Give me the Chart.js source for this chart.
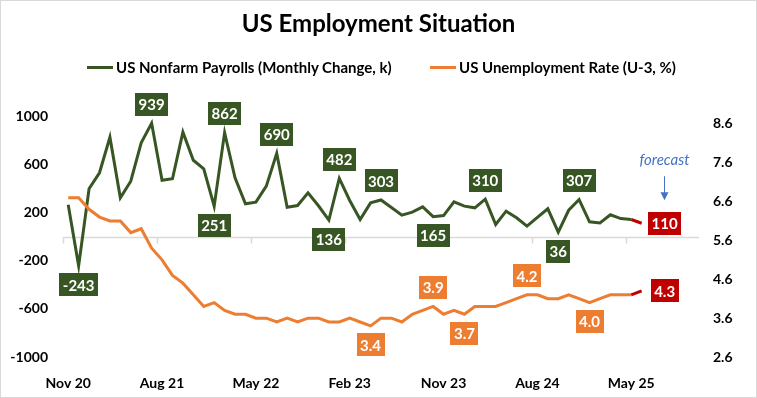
<!DOCTYPE html>
<html>
<head>
<meta charset="utf-8">
<script src="https://cdn.jsdelivr.net/npm/chart.js@4.4.1/dist/chart.umd.min.js"></script>
<style>
  body { margin: 0; background: #fff; }
  #wrap { position: relative; width: 757px; height: 398px; }
  #title { position: absolute; left: 0; top: 8px; width: 757px; line-height: 28px; text-align: center; font: bold 24px Lato, sans-serif; color: #000; }
  .leg { position: absolute; top: 58px; line-height: 18px; font: bold 15px Lato, sans-serif; color: #000; display: flex; align-items: center; white-space: nowrap; }
  .leg i { display: inline-block; width: 26px; height: 3px; margin-right: 3px; }
</style>
</head>
<body>
<div id="wrap">
  <canvas id="chart" width="757" height="398"></canvas>
  <div id="title">US Employment Situation</div>
  <div class="leg" style="left:87px"><i style="background:#375623"></i>US Nonfarm Payrolls (Monthly Change, k)</div>
  <div class="leg" style="left:430px"><i style="background:#ED7D31"></i>US Unemployment Rate (U-3, %)</div>
</div>
<script>
const categories = [
  "Nov 20", "Dec 20",
  "Jan 21", "Feb 21", "Mar 21", "Apr 21", "May 21", "Jun 21", "Jul 21", "Aug 21", "Sep 21", "Oct 21", "Nov 21", "Dec 21",
  "Jan 22", "Feb 22", "Mar 22", "Apr 22", "May 22", "Jun 22", "Jul 22", "Aug 22", "Sep 22", "Oct 22", "Nov 22", "Dec 22",
  "Jan 23", "Feb 23", "Mar 23", "Apr 23", "May 23", "Jun 23", "Jul 23", "Aug 23", "Sep 23", "Oct 23", "Nov 23", "Dec 23",
  "Jan 24", "Feb 24", "Mar 24", "Apr 24", "May 24", "Jun 24", "Jul 24", "Aug 24", "Sep 24", "Oct 24", "Nov 24", "Dec 24",
  "Jan 25", "Feb 25", "Mar 25", "Apr 25", "May 25", "Jun 25", "Jul 25", "Aug 25", "Sep 25", "Oct 25", "Nov 25"
];

// nonfarm payrolls, monthly change in thousands (last value = forecast)
const payrolls = [
  264, -243,
  396, 529, 824, 321, 459, 778, 939, 467, 479, 866, 633, 562,
  251, 862, 487, 271, 285, 418, 690, 243, 257, 362, 255, 136,
  482, 299, 141, 279, 303, 240, 177, 202, 246, 165, 174, 288,
  252, 238, 310, 100, 210, 155, 86, 158, 230, 36, 218, 307,
  122, 113, 180, 149, 141, 110
];

// unemployment rate U-3, % (last value = forecast)
const unemployment = [
  6.7, 6.7,
  6.4, 6.2, 6.1, 6.1, 5.8, 5.9, 5.4, 5.1, 4.7, 4.5, 4.2, 3.9,
  4.0, 3.8, 3.7, 3.7, 3.6, 3.6, 3.5, 3.6, 3.5, 3.6, 3.6, 3.5,
  3.5, 3.6, 3.5, 3.4, 3.6, 3.6, 3.5, 3.7, 3.8, 3.9, 3.7, 3.8,
  3.7, 3.9, 3.9, 3.9, 4.0, 4.1, 4.2, 4.2, 4.1, 4.1, 4.2, 4.1,
  4.0, 4.1, 4.2, 4.2, 4.2, 4.3
];

const payrollTicks = [-1000, -600, -200, 200, 600, 1000];
const rateTicks = [2.6, 3.6, 4.6, 5.6, 6.6, 7.6, 8.6];
const forecastIndex = 55;

// which points get a value box, and where
const payrollLabels = [[1, "below"], [8, "above"], [14, "below"], [15, "above"], [20, "above"], [25, "below"],
  [26, "above"], [30, "above"], [35, "below"], [40, "above"], [47, "below"], [49, "above"], [55, "right"]];
const rateLabels = [[29, "below"], [35, "above"], [38, "below"], [44, "above"], [50, "below"], [55, "right"]];

const GREEN = "#375623";
const ORANGE = "#ED7D31";
const RED = "#C00000";
const NOTE = "#4472C4";

Chart.defaults.font.family = "Lato, sans-serif";

const frame = {
  id: "frame",
  beforeDraw(chart) {
    const c = chart.ctx;
    c.save();
    c.fillStyle = "#fff";
    c.fillRect(0, 0, chart.width, chart.height);
    c.strokeStyle = "#D9D9D9";
    c.lineWidth = 1;
    c.strokeRect(0.5, 0.5, chart.width - 1, chart.height - 1);
    c.restore();
  }
};

const zeroAxis = {
  id: "zeroAxis",
  beforeDatasetsDraw(chart) {
    const { ctx, chartArea, scales: { x, y } } = chart;
    const y0 = Math.round(y.getPixelForValue(0)) + 0.5;
    const half = (x.getPixelForValue(1) - x.getPixelForValue(0)) / 2;
    ctx.save();
    ctx.strokeStyle = "#D9D9D9";
    ctx.lineWidth = 1.5;
    ctx.beginPath();
    ctx.moveTo(chartArea.left, y0);
    ctx.lineTo(chartArea.right, y0);
    categories.forEach((_, i) => {
      if (i % 9 === 0) {
        const px = Math.round(x.getPixelForValue(i) - half) + 0.5;
        ctx.moveTo(px, y0);
        ctx.lineTo(px, y0 + 6);
      }
    });
    ctx.stroke();
    ctx.restore();
  }
};

const boxLabels = {
  id: "boxLabels",
  afterDatasetsDraw(chart) {
    const c = chart.ctx;
    c.save();
    c.font = "bold 15px Lato, sans-serif";
    c.textAlign = "center";
    c.textBaseline = "middle";
    const groups = [
      [0, payrollLabels, GREEN, v => String(v)],
      [1, rateLabels, ORANGE, v => v.toFixed(1)]
    ];
    groups.forEach(([ds, list, color, fmt]) => {
      const meta = chart.getDatasetMeta(ds);
      list.forEach(([i, pos]) => {
        const pt = meta.data[i];
        const txt = fmt(chart.data.datasets[ds].data[i]);
        const w = Math.round(c.measureText(txt).width + 7);
        const h = 23;
        let x = pt.x, y = pt.y;
        if (pos === "above") y -= 19;
        else if (pos === "below") y += 19;
        else x += 23;
        c.fillStyle = i === forecastIndex ? RED : color;
        c.fillRect(Math.round(x - w / 2), Math.round(y - h / 2), w, h);
        c.fillStyle = "#fff";
        c.fillText(txt, x, y + 1);
      });
    });

    // forecast note with arrow above the payroll forecast box
    const fp = chart.getDatasetMeta(0).data[forecastIndex];
    const ax = Math.round(fp.x + 22) + 0.5;
    c.fillStyle = NOTE;
    c.font = "italic 15px Lato, sans-serif";
    c.fillText("forecast", ax, fp.y - 63);
    c.strokeStyle = NOTE;
    c.lineWidth = 1;
    c.beginPath();
    c.moveTo(ax, fp.y - 47);
    c.lineTo(ax, fp.y - 30);
    c.stroke();
    c.beginPath();
    c.moveTo(ax - 4, fp.y - 31);
    c.lineTo(ax + 4, fp.y - 31);
    c.lineTo(ax, fp.y - 23);
    c.closePath();
    c.fill();
    c.restore();
  }
};

const tickFont = { size: 14, weight: "bold" };

new Chart(document.getElementById("chart"), {
  type: "line",
  data: {
    labels: categories,
    datasets: [
      {
        label: "US Nonfarm Payrolls (Monthly Change, k)",
        data: payrolls,
        yAxisID: "y",
        borderColor: GREEN,
        borderWidth: 3,
        pointRadius: 0,
        tension: 0,
        order: 1,
        segment: { borderColor: ctx => ctx.p1DataIndex === forecastIndex ? RED : undefined }
      },
      {
        label: "US Unemployment Rate (U-3, %)",
        data: unemployment,
        yAxisID: "y1",
        borderColor: ORANGE,
        borderWidth: 3,
        pointRadius: 0,
        tension: 0,
        order: 0,
        segment: { borderColor: ctx => ctx.p1DataIndex === forecastIndex ? RED : undefined }
      }
    ]
  },
  options: {
    responsive: false,
    animation: false,
    layout: { padding: { top: 116, left: 0, right: 0, bottom: 0 } },
    plugins: {
      legend: { display: false },
      title: { display: false },
      tooltip: { enabled: false }
    },
    scales: {
      x: {
        type: "category",
        offset: true,
        grid: { display: false, drawTicks: false },
        border: { display: false },
        ticks: {
          autoSkip: false,
          maxRotation: 0,
          padding: 18,
          color: "#000",
          font: tickFont,
          callback: (v, i) => (i % 9 === 0 ? categories[i] : "")
        },
        afterFit: s => { s.height = 41; }
      },
      y: {
        position: "left",
        min: -1000,
        max: 1000,
        grid: { display: false, drawTicks: false },
        border: { display: false },
        ticks: { padding: 15, color: "#000", font: tickFont, callback: v => String(v) },
        afterBuildTicks: s => { s.ticks = payrollTicks.map(v => ({ value: v })); },
        afterFit: s => { s.width = 63; }
      },
      y1: {
        position: "right",
        min: 2.6,
        max: 8.8,
        grid: { display: false, drawTicks: false },
        border: { display: false },
        ticks: { padding: 14, color: "#000", font: tickFont, callback: v => v.toFixed(1) },
        afterBuildTicks: s => { s.ticks = rateTicks.map(v => ({ value: v })); },
        afterFit: s => { s.width = 58; }
      }
    }
  },
  plugins: [frame, zeroAxis, boxLabels]
});
</script>
</body>
</html>
